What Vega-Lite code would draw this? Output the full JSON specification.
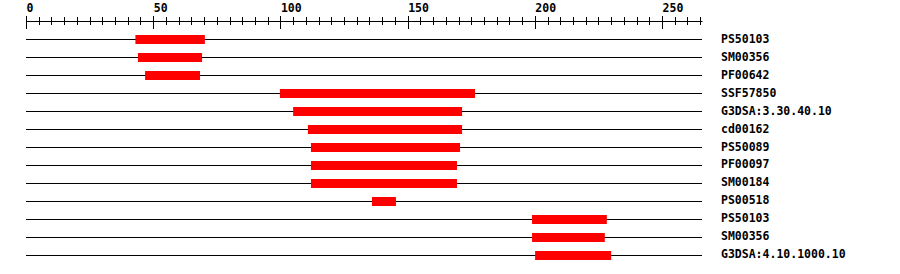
{
  "$schema": "https://vega.github.io/schema/vega-lite/v6.json",
  "autosize": "none",
  "padding": {"left": 26, "top": 21, "right": 198, "bottom": 0},
  "width": 676,
  "height": 253,
  "background": "white",
  "config": {"view": {"stroke": null}},
  "data": {
    "values": [
      {"idx": 1, "name": "PS50103", "start": 43, "end": 70.3},
      {"idx": 2, "name": "SM00356", "start": 44, "end": 69.2},
      {"idx": 3, "name": "PF00642", "start": 46.8, "end": 68.4},
      {"idx": 4, "name": "SSF57850", "start": 99.8, "end": 176.5},
      {"idx": 5, "name": "G3DSA:3.30.40.10", "start": 105, "end": 171.4},
      {"idx": 6, "name": "cd00162", "start": 110.8, "end": 171.4},
      {"idx": 7, "name": "PS50089", "start": 112, "end": 170.6},
      {"idx": 8, "name": "PF00097", "start": 112, "end": 169.4},
      {"idx": 9, "name": "SM00184", "start": 112, "end": 169.4},
      {"idx": 10, "name": "PS00518", "start": 136, "end": 145.4},
      {"idx": 11, "name": "PS50103", "start": 198.9, "end": 228.3},
      {"idx": 12, "name": "SM00356", "start": 198.9, "end": 227.5},
      {"idx": 13, "name": "G3DSA:4.10.1000.10", "start": 200.1, "end": 230}
    ]
  },
  "encoding": {
    "y": {
      "field": "idx",
      "type": "ordinal",
      "bandPosition": 0.5,
      "scale": {"paddingInner": 0, "paddingOuter": 0.5278},
      "axis": null
    }
  },
  "layer": [
    {
      "mark": {"type": "rule", "color": "black", "strokeWidth": 1},
      "encoding": {
        "x": {
          "datum": 0,
          "type": "quantitative",
          "scale": {"domain": [0, 265.7], "nice": false, "zero": true},
          "axis": {
            "orient": "top",
            "offset": 0,
            "domain": true,
            "domainColor": "black",
            "domainWidth": 1,
            "ticks": false,
            "labels": false,
            "grid": false,
            "title": null
          }
        },
        "x2": {"datum": 265.7}
      }
    },
    {
      "mark": {"type": "bar", "color": "#ff0000", "size": 9},
      "encoding": {
        "x": {
          "field": "start",
          "type": "quantitative",
          "axis": {
            "orient": "top",
            "offset": -7.5,
            "domain": false,
            "grid": false,
            "title": null,
            "values": [0, 50, 100, 150, 200, 250],
            "tickSize": 13,
            "tickColor": "black",
            "tickWidth": 1,
            "labelAlign": "left",
            "labelBaseline": "alphabetic",
            "labelPadding": 4,
            "labelFont": "DejaVu Sans Mono",
            "labelFontWeight": "bold",
            "labelFontSize": 11.5,
            "labelColor": "black",
            "labelFlush": false,
            "labelOverlap": false,
            "labelBound": false
          }
        },
        "x2": {"field": "end"}
      }
    },
    {
      "mark": {
        "type": "text",
        "align": "left",
        "baseline": "middle",
        "dx": 19,
        "font": "DejaVu Sans Mono",
        "fontWeight": "bold",
        "fontSize": 11.5,
        "color": "black"
      },
      "encoding": {
        "x": {
          "datum": 265.7,
          "type": "quantitative",
          "axis": {
            "orient": "top",
            "offset": -3.5,
            "domain": false,
            "grid": false,
            "labels": false,
            "title": null,
            "values": [0, 5, 10, 15, 20, 25, 30, 35, 40, 45, 50, 55, 60, 65, 70, 75, 80, 85, 90, 95, 100, 105, 110, 115, 120, 125, 130, 135, 140, 145, 150, 155, 160, 165, 170, 175, 180, 185, 190, 195, 200, 205, 210, 215, 220, 225, 230, 235, 240, 245, 250, 255, 260, 265],
            "tickSize": 8,
            "tickColor": "black",
            "tickWidth": 1
          }
        },
        "text": {"field": "name"}
      }
    }
  ],
  "resolve": {"axis": {"x": "independent"}}
}
